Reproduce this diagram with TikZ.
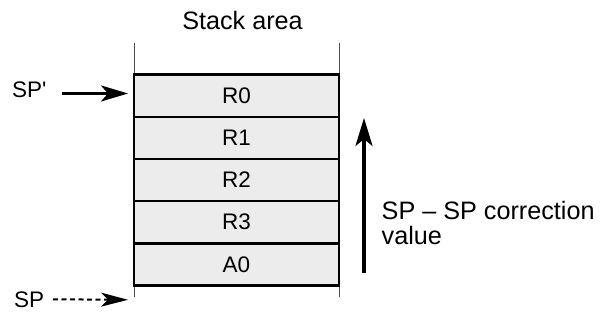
\documentclass[tikz,border=0pt]{standalone}
\usepackage{fontspec}
\setmainfont{Liberation Sans}
\usepackage{tikz}
\usetikzlibrary{arrows.meta,positioning,calc}

\tikzset{
  row/.style={draw, line width=2.4pt, fill=gray!15, minimum width=205pt,
    minimum height=42.2pt, inner sep=0pt, outer sep=0pt},
  lbl/.style={font=\fontsize{22.5}{24.5}\selectfont},
  biglbl/.style={font=\fontsize{25.2}{24.5}\selectfont},
  ptr/.style={line width=3pt, -{Stealth[length=27pt,width=16pt,inset=7pt]}}
}

\begin{document}
\begin{tikzpicture}[x=1pt, y=-1pt]
\useasboundingbox (0,0) rectangle (616,322);

% Title
\node[biglbl, anchor=base, inner sep=0pt] (title) at (242.5,29.3) {Stack area};

% Side rails of the stack
\coordinate (ltop) at (134,43);
\coordinate (lbot) at (134,297);
\coordinate (rtop) at (339,43);
\coordinate (rbot) at (339,297);
\draw[line width=0.8pt, gray!60!black] (ltop) -- (lbot);
\draw[line width=0.8pt, gray!60!black] (rtop) -- (rbot);

% Stack rows
\node[row, lbl, anchor=north west] (r0) at (134,74.5) {R0};
\node[row, lbl, below=0pt of r0] (r1) {R1};
\node[row, lbl, below=0pt of r1] (r2) {R2};
\node[row, lbl, below=0pt of r2] (r3) {R3};
\node[row, lbl, below=0pt of r3] (a0) {A0};

% Pointers
\node[lbl, anchor=base west, inner sep=0pt] (spnew) at (12,97.7) {SP\textquotesingle};
\draw[ptr] (62,93.5) coordinate (spnewtail) -- ($(r0.north west)+(-6,19)$);

\node[lbl, anchor=base west, inner sep=0pt] (spold) at (14,307.7) {SP};
\draw[ptr, line width=2pt, -{Stealth[length=27pt,width=14pt,inset=7pt]},
  dashed, dash pattern=on 5pt off 3.5pt] (53,299.3) coordinate (spoldtail) -- ($(a0.south west)+(-6,14.3)$);

% Correction arrow
\coordinate (corlow) at (364,273);
\coordinate (corhigh) at (364,118);
\draw[line width=3.3pt, -{Stealth[length=28pt,width=17pt,inset=7pt]}] (corlow) -- (corhigh);
\node[biglbl, align=left, anchor=north west, inner sep=0pt] (cortext) at (381.5,201.5) {SP -- SP correction\\value};
\end{tikzpicture}
\end{document}
